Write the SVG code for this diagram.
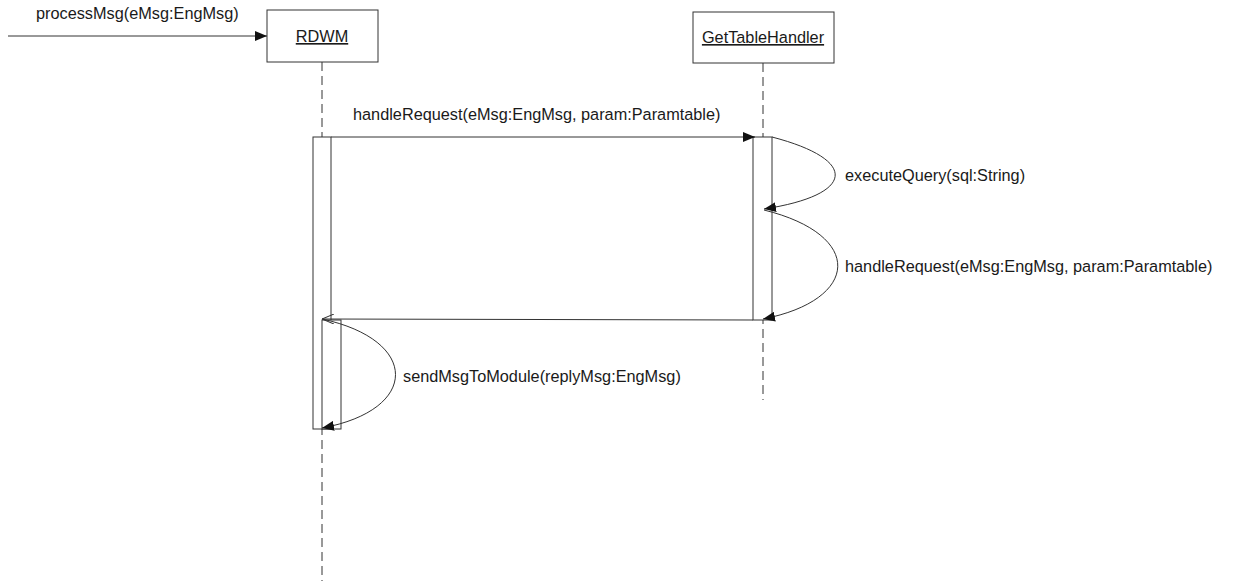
<svg xmlns="http://www.w3.org/2000/svg" width="1234" height="581" viewBox="0 0 1234 581">
<defs>
<style>
text{font-family:"Liberation Sans",Arial,sans-serif;font-size:16.3px;fill:#1a1a1a}
.box{fill:#fff;stroke:#333;stroke-width:1}
.life{stroke:#333;stroke-width:1;stroke-dasharray:9 5;fill:none}
.act{fill:#fff;stroke:#333;stroke-width:1}
.msg{stroke:#333;stroke-width:1;fill:none}
</style>
<marker id="filled" viewBox="0 0 12 10" refX="12" refY="5" markerWidth="12" markerHeight="10" markerUnits="userSpaceOnUse" orient="auto">
<path d="M0,0 L12,5 L0,10 Z" fill="#111"/>
</marker>
<marker id="open" viewBox="0 0 12 10" refX="12" refY="5" markerWidth="12" markerHeight="10" markerUnits="userSpaceOnUse" orient="auto">
<path d="M0,0 L12,5 L0,10" fill="none" stroke="#333" stroke-width="1"/>
</marker>
</defs>
<rect width="1234" height="581" fill="#fff"/>
<g id="lifelines">
<line class="life" x1="322" y1="62" x2="322" y2="581"/>
<line class="life" x1="763" y1="63" x2="763" y2="400"/>
</g>
<g id="RDWM">
<rect class="box" x="267" y="10" width="111" height="52"/>
<text x="322" y="42" text-anchor="middle" text-decoration="underline">RDWM</text>
</g>
<g id="GetTableHandler">
<rect class="box" x="693" y="12" width="141" height="51"/>
<text x="763" y="43" text-anchor="middle" text-decoration="underline">GetTableHandler</text>
</g>
<g id="activations">
<rect class="act" x="313" y="137" width="18" height="292"/>
<rect class="act" x="322" y="320" width="19" height="109"/>
<rect class="act" x="753" y="137" width="19" height="183"/>
</g>
<g id="connectors">
<line class="msg" x1="8" y1="36" x2="267" y2="36" marker-end="url(#filled)"/>
<line class="msg" x1="331" y1="137" x2="755" y2="137" marker-end="url(#filled)"/>
<path class="msg" d="M772,137 C860,160 855,195 764,209" marker-end="url(#filled)"/>
<path class="msg" d="M764,210 C865,235 860,300 763,319" marker-end="url(#filled)"/>
<line class="msg" x1="753" y1="320" x2="322" y2="319" marker-end="url(#open)"/>
<path class="msg" d="M322,319 C420,340 420,410 322,428" marker-end="url(#filled)"/>
</g>
<g id="labels">
<text x="36" y="19">processMsg(eMsg:EngMsg)</text>
<text x="353" y="120">handleRequest(eMsg:EngMsg, param:Paramtable)</text>
<text x="845" y="181">executeQuery(sql:String)</text>
<text x="845" y="272">handleRequest(eMsg:EngMsg, param:Paramtable)</text>
<text x="403" y="382">sendMsgToModule(replyMsg:EngMsg)</text>
</g>
</svg>
